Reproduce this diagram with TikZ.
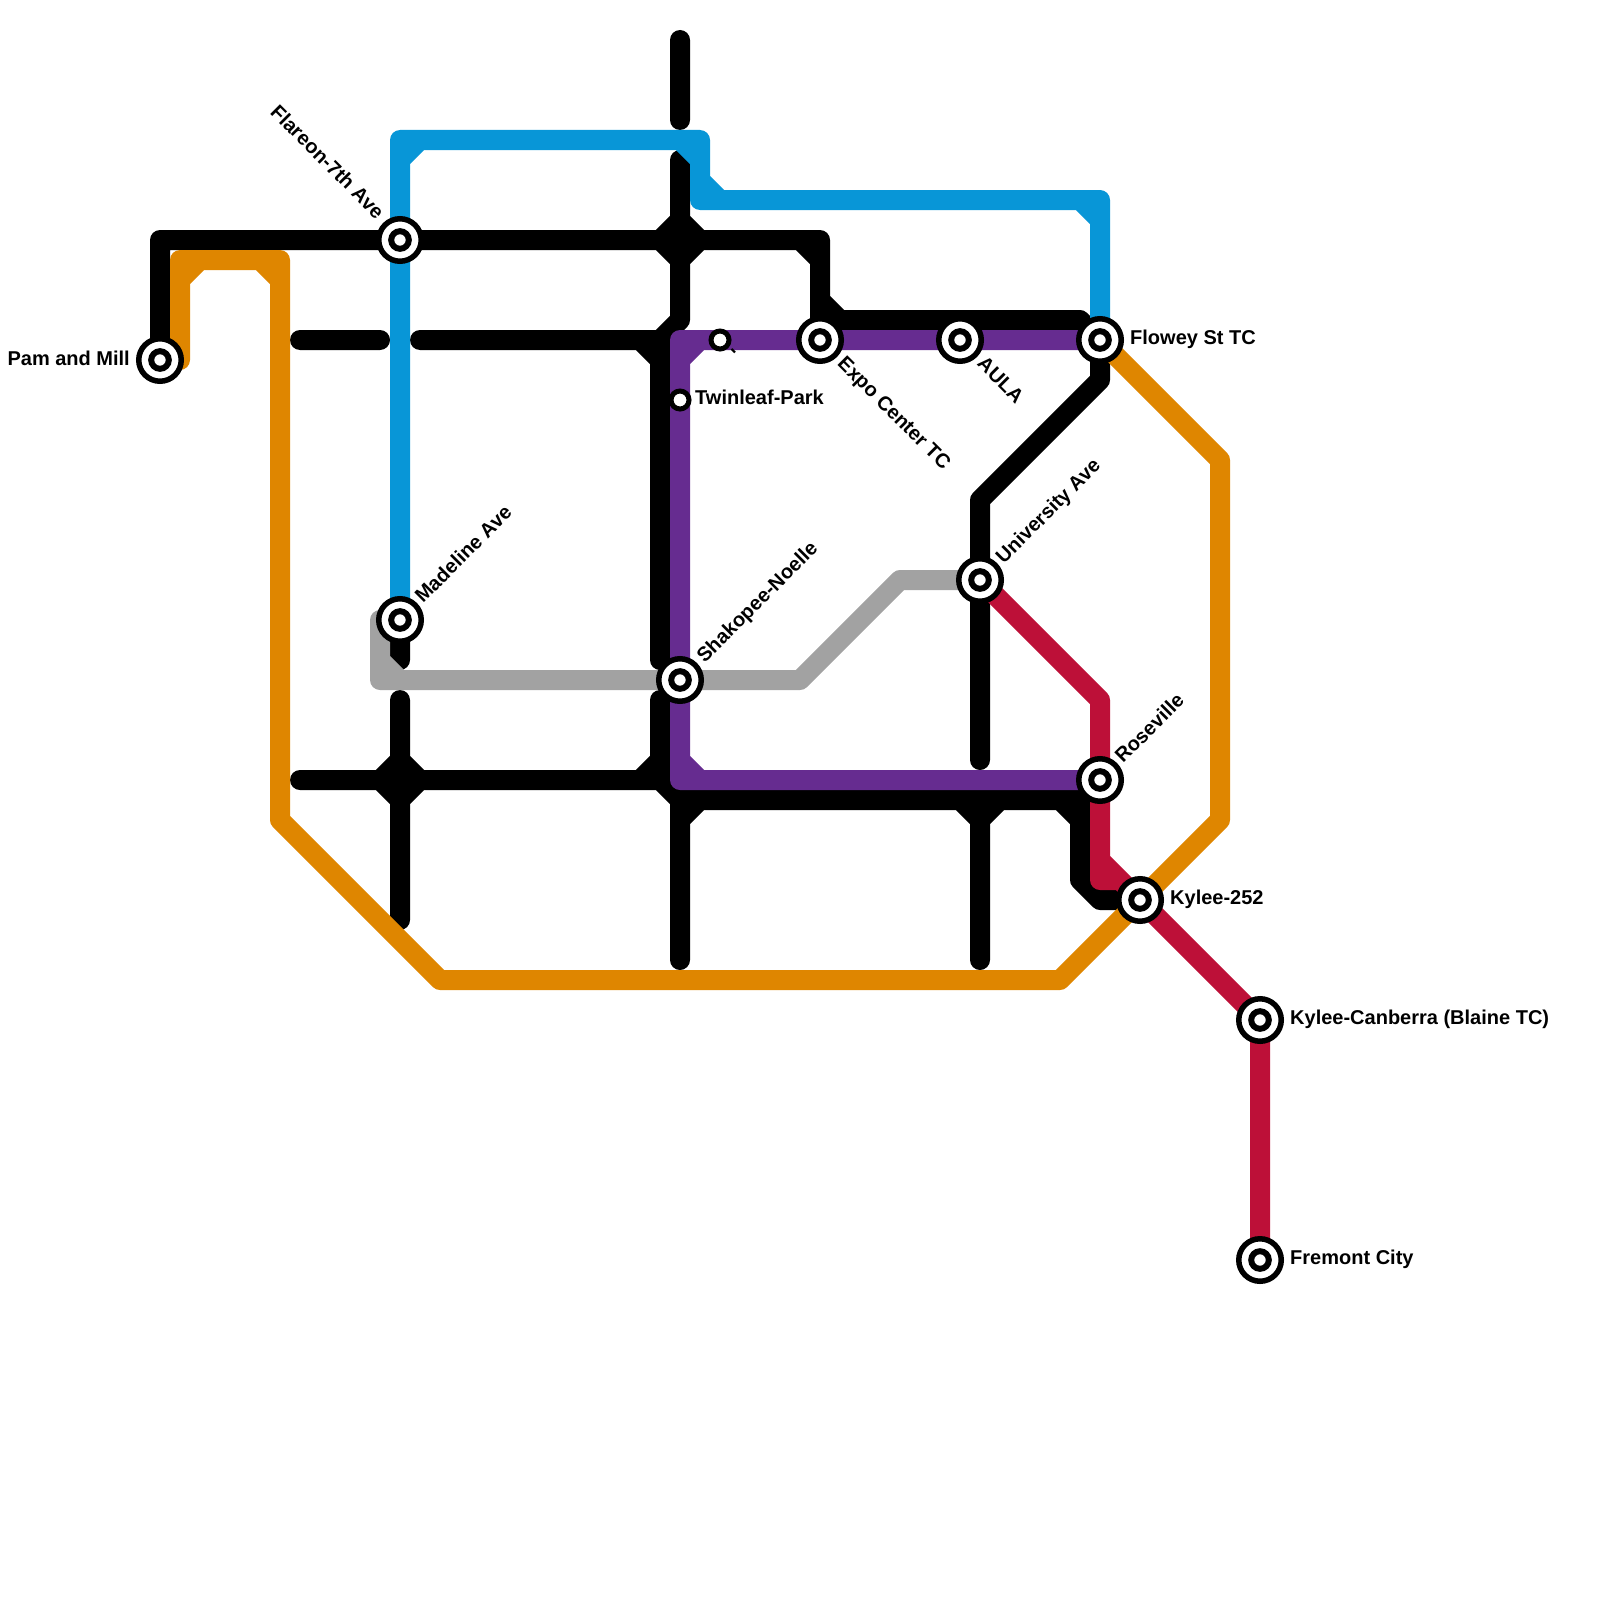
\documentclass[tikz,border=0pt]{standalone}
\usepackage{fontspec}
\setmainfont{Liberation Sans}
\definecolor{cblue}{HTML}{0896D7}
\definecolor{corange}{HTML}{DF8600}
\definecolor{cpurple}{HTML}{662C90}
\definecolor{cred}{HTML}{BD1038}
\definecolor{cgray}{HTML}{A2A2A2}
\tikzset{
  metro/.style={line width=20pt,line cap=round,line join=round},
  stn/.style={circle,fill=white,draw=black,line width=5.5pt,minimum size=42.5pt,inner sep=0pt,outer sep=0pt,
    path picture={\draw[line width=6pt,fill=white] (path picture bounding box.center) circle (8.8pt);}},
  smallstn/.style={circle,fill=white,draw=black,line width=5pt,minimum size=18pt,inner sep=0pt,outer sep=0pt},
  lbl/.style={font=\bfseries\fontsize{20}{22}\selectfont,inner sep=0pt,text=black},
}
\begin{document}
\begin{tikzpicture}[x=1pt,y=-1pt]
\useasboundingbox (0,0) rectangle (1600,1600);
\coordinate (pam) at (160,360);
\coordinate (fla) at (400,240);
\coordinate (mad) at (400,620);
\coordinate (sha) at (680,680);
\coordinate (exp) at (820,340);
\coordinate (aul) at (960,340);
\coordinate (flo) at (1100,340);
\coordinate (uni) at (980,580);
\coordinate (ros) at (1100,780);
\coordinate (k25) at (1140,900);
\coordinate (kca) at (1260,1020);
\coordinate (fre) at (1260,1260);
\coordinate (twi) at (680,400);
\coordinate (unk) at (720,340);
% black
\draw[metro,black]
  (pam) -- (160,240) -- (820,240) -- (820,320) -- (1080,320) -- (flo)
  (800,240) -- (820,260) (820,300) -- (840,320)
  (flo) -- (1100,380) -- (980,500) -- (uni) -- (980,760)
  (680,40) -- (680,120)
  (680,160) -- (680,320) -- (660,340) -- (660,660)
  (660,240) -- (680,220) -- (700,240) -- (680,260) -- cycle
  (300,340) -- (380,340)
  (420,340) -- (660,340) (640,340) -- (660,360)
  (400,620) -- (400,660)
  (400,700) -- (400,920)
  (380,780) -- (400,760) -- (420,780) -- (400,800) -- cycle
  (300,780) -- (660,780) (640,780) -- (660,760)
  (660,700) -- (660,780) -- (680,800) -- (1080,800) -- (ros)
  (680,800) -- (680,960) (680,820) -- (700,800)
  (960,800) -- (980,820) -- (1000,800) (980,800) -- (980,960)
  (1060,800) -- (1080,820)
  (1080,800) -- (1080,880) -- (1100,900) -- (k25);
% orange
\draw[metro,corange]
  (180,360) -- (180,260) -- (280,260) -- (280,820) -- (440,980) -- (1060,980) -- (1220,820) -- (1220,460) -- (flo)
  (180,280) -- (200,260) (260,260) -- (280,280);
% blue
\draw[metro,cblue]
  (mad) -- (400,140) -- (700,140) -- (700,200) -- (1100,200) -- (flo)
  (400,160) -- (420,140) (680,140) -- (700,160) (700,180) -- (720,200) (1080,200) -- (1100,220);
% gray
\draw[metro,cgray]
  (380,620) -- (380,680) -- (800,680) -- (900,580) -- (uni)
  (380,660) -- (400,680);
% purple
\draw[metro,cpurple]
  (flo) -- (680,340) -- (680,780) -- (ros)
  (680,360) -- (700,340) (680,760) -- (700,780);
% red
\draw[metro,cred]
  (uni) -- (1100,700) -- (1100,880) -- (1120,880) -- (k25) -- (kca) -- (fre)
  (1100,860) -- (1120,880);
% stations
\foreach \n in {pam,fla,mad,sha,exp,aul,flo,uni,ros,k25,kca,fre}
  \node[stn] (s\n) at (\n) {};
\node[smallstn] (stwi) at (twi) {};
\node[smallstn] (sunk) at (unk) {};
% labels
\node[lbl,anchor=east] (l1) at (130,358) {Pam and Mill};
\node[lbl,anchor=east,rotate=-45] (l2) at (381,215) {Flareon-7th Ave};
\node[lbl,anchor=west,rotate=45] (l3) at (418,599) {Madeline Ave};
\node[lbl,anchor=west,rotate=45] (l4) at (701,660) {Shakopee-Noelle};
\node[lbl,anchor=west] (l5) at (695,397) {Twinleaf-Park};
\node[lbl,anchor=west,rotate=-45] (l6) at (840,361) {Expo Center TC};
\node[lbl,anchor=west,rotate=-45] (l7) at (981,360) {AULA};
\node[lbl,anchor=west] (l8) at (1130,339) {Flowey St TC};
\node[lbl,anchor=west,rotate=45] (l9) at (1000,561) {University Ave};
\node[lbl,anchor=west,rotate=45] (l10) at (1118,759) {Roseville};
\node[lbl,anchor=west] (l11) at (1170,899) {Kylee-252};
\node[lbl,anchor=west] (l12) at (1290,1019) {Kylee-Canberra (Blaine TC)};
\node[lbl,anchor=west] (l13) at (1290,1259) {Fremont City};
\node[lbl,rotate=-45] (l14) at (732,353) {-};
\end{tikzpicture}
\end{document}
